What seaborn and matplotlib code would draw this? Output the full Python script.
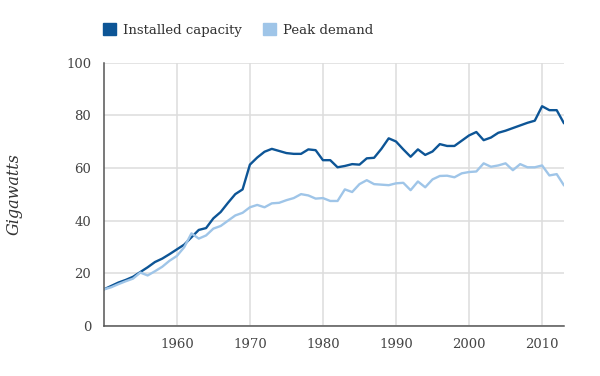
import matplotlib
matplotlib.use("Agg")
import matplotlib.pyplot as plt
from matplotlib.patches import Patch
import numpy as np
import pandas as pd
import seaborn as sns

# %% data
years = list(range(1950, 2014))
capacity = [
    13.9, 15.2, 16.5, 17.5, 18.7, 20.5, 22.3, 24.3, 25.6, 27.3,
    29.1, 30.9, 33.7, 36.5, 37.2, 40.9, 43.3, 46.8, 50.1, 51.9,
    61.3, 64.0, 66.2, 67.3, 66.5, 65.7, 65.4, 65.4, 67.1, 66.8,
    63.0, 63.0, 60.3, 60.8, 61.5, 61.3, 63.7, 63.9, 67.3, 71.3,
    70.1, 67.1, 64.3, 67.1, 65.0, 66.3, 69.1, 68.4, 68.4, 70.4,
    72.4, 73.7, 70.6, 71.6, 73.4, 74.2, 75.2, 76.2, 77.2, 78.0,
    83.5, 82.0, 82.0, 77.0,
]
demand = [
    13.9, 14.7, 15.9, 17.0, 18.0, 20.3, 19.2, 20.8, 22.5, 24.8,
    26.6, 29.9, 35.2, 33.2, 34.4, 37.0, 38.0, 40.0, 42.0, 43.0,
    45.1, 46.0, 45.1, 46.6, 46.8, 47.8, 48.6, 50.1, 49.6, 48.4,
    48.6, 47.5, 47.5, 51.9, 50.9, 53.9, 55.4, 53.9, 53.7, 53.5,
    54.2, 54.4, 51.6, 54.9, 52.7, 55.7, 57.0, 57.1, 56.5, 58.0,
    58.5, 58.7, 61.8, 60.5, 61.0, 61.8, 59.2, 61.5, 60.3, 60.3,
    61.0, 57.2, 57.7, 53.4,
]
series_names = ["Installed capacity", "Peak demand"]
colors = ["#0d5596", "#9fc5e8"]
xticks = [1960, 1970, 1980, 1990, 2000, 2010]
yticks = [0, 20, 40, 60, 80, 100]

df = pd.DataFrame({
    "year": years * 2,
    "value": capacity + demand,
    "series": [series_names[0]] * len(years) + [series_names[1]] * len(years),
})

# %% plot
sns.set_style("white")
plt.rcParams["font.family"] = ["DejaVu Serif"]

fig = plt.figure(figsize=(6, 3.76), dpi=100)
ax = fig.add_axes([0.173, 0.133, 0.767, 0.7])

sns.lineplot(data=df, x="year", y="value", hue="series",
             palette=dict(zip(series_names, colors)), linewidth=1.7,
             legend=False, ax=ax)

ax.set_xlim(1950, 2013)
ax.set_ylim(0, 100)
ax.set_xticks(xticks)
ax.set_yticks(yticks)
ax.grid(True, color="#dddddd", linewidth=1.1)
ax.set_axisbelow(True)
for s in ["top", "right"]:
    ax.spines[s].set_visible(False)
for s in ["left", "bottom"]:
    ax.spines[s].set_color("#555555")
    ax.spines[s].set_linewidth(1.1)
ax.tick_params(length=0, labelsize=9.5, colors="#444444", pad=9)
ax.set_xlabel("")
ax.set_ylabel("Gigawatts", fontsize=11.5, style="italic", color="#333333",
              labelpad=31)

handles = [Patch(facecolor=c, edgecolor=c) for c in colors]
fig.legend(handles, series_names, loc="upper left",
           bbox_to_anchor=(0.152, 0.97), ncol=2, frameon=False,
           fontsize=9.5, handlelength=1.0, handleheight=1.0,
           handletextpad=0.5, columnspacing=1.6, labelcolor="#333333")

fig.savefig("out.png", dpi=100)
